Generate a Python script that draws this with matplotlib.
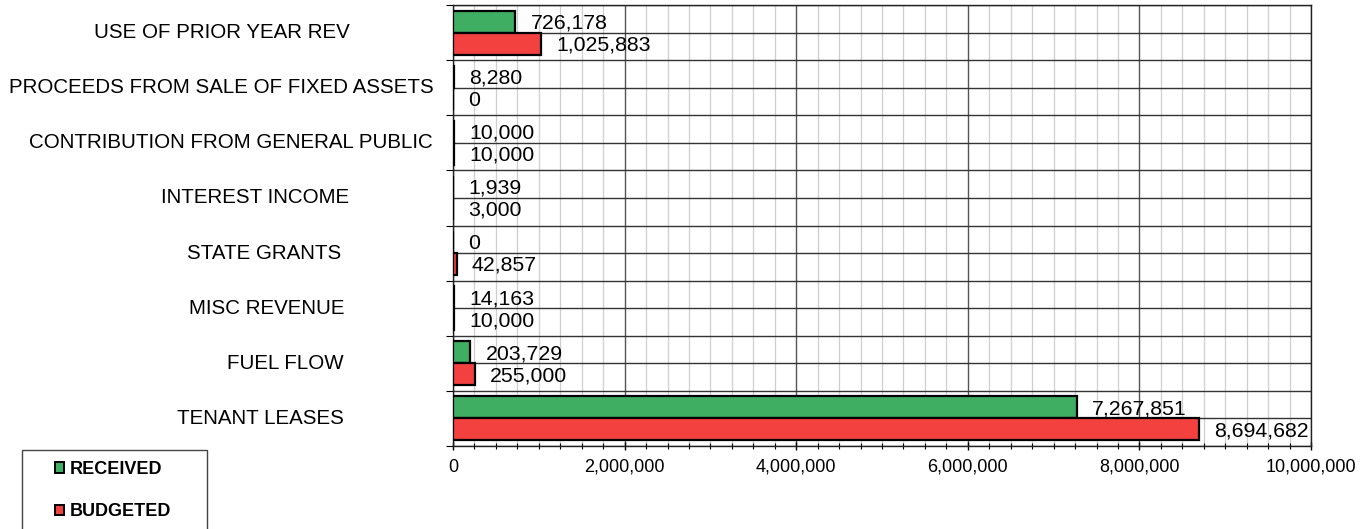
import matplotlib
matplotlib.use("Agg")
import matplotlib.pyplot as plt
import matplotlib.transforms as mtransforms
from matplotlib.patches import Rectangle, Patch
from matplotlib.ticker import MultipleLocator, FuncFormatter
import numpy as np

plt.rcParams['font.family'] = ['Liberation Sans', 'DejaVu Sans']

categories = [
    "USE OF PRIOR YEAR REV",
    "PROCEEDS FROM SALE OF FIXED ASSETS",
    "CONTRIBUTION FROM GENERAL PUBLIC",
    "INTEREST INCOME",
    "STATE GRANTS",
    "MISC REVENUE",
    "FUEL FLOW",
    "TENANT LEASES",
]
received = [726178, 8280, 10000, 1939, 0, 14163, 203729, 7267851]
budgeted = [1025883, 0, 10000, 3000, 42857, 10000, 255000, 8694682]
series_names = ["RECEIVED", "BUDGETED"]

GREEN = "#3fae62"
RED = "#f2413f"

W, H = 1365, 529
fig = plt.figure(figsize=(W / 100, H / 100), dpi=100)
ax = fig.add_axes([453 / W, 1 - 446 / H, (1311 - 453) / W, (446 - 5) / H])

y = np.arange(len(categories))
bh = 0.4
ax.barh(y - bh / 2, received, height=bh, color=GREEN, edgecolor="black", linewidth=1.6, zorder=3)
ax.barh(y + bh / 2, budgeted, height=bh, color=RED, edgecolor="black", linewidth=1.6, zorder=3)

for yi, v in zip(y, received):
    ax.annotate(f"{v:,}", (v, yi - bh / 2), xytext=(11, -1), textcoords="offset points",
                ha="left", va="center", fontsize=15.3, zorder=4)
for yi, v in zip(y, budgeted):
    ax.annotate(f"{v:,}", (v, yi + bh / 2), xytext=(11, -1), textcoords="offset points",
                ha="left", va="center", fontsize=15.3, zorder=4)

ax.set_xlim(0, 10_000_000)
ax.set_ylim(len(categories) - 0.5, -0.5)

# vertical grid: major every 2M, minor every 250k
ax.xaxis.set_major_locator(MultipleLocator(2_000_000))
ax.xaxis.set_minor_locator(MultipleLocator(250_000))
ax.xaxis.set_major_formatter(FuncFormatter(lambda v, p: f"{int(v):,}"))
ax.grid(axis="x", which="major", color="#555555", linewidth=1.0, zorder=0)
ax.grid(axis="x", which="minor", color="#cfcfcf", linewidth=0.9, zorder=0)

# horizontal lines at category boundaries (ticked) and centres (unticked)
ax.set_yticks(np.arange(-0.5, len(categories), 1.0))
ax.set_yticks(np.arange(0, len(categories), 1.0), minor=True)
ax.set_yticklabels([])
ax.grid(axis="y", which="both", color="#333333", linewidth=1.0, zorder=1)
ax.tick_params(axis="y", which="major", length=5, width=0.8, direction="out", left=True)
ax.tick_params(axis="y", which="minor", length=0)
ax.tick_params(axis="x", which="major", length=6, width=1.0, direction="inout", labelsize=13, pad=6)
ax.tick_params(axis="x", which="minor", length=4, width=0.8, direction="inout")
for s in ax.spines.values():
    s.set_color("#222222")
    s.set_linewidth(1.0)

# category labels
label_cx = [222, 221, 231, 255, 264, 267, 285, 260]
trans = mtransforms.blended_transform_factory(fig.transFigure, ax.transData)
for yi, name, cx in zip(y, categories, label_cx):
    ax.text(cx / W, yi, name, transform=trans, ha="center", va="center", fontsize=14.8)

# legend box
fig.patches.append(Rectangle((22 / W, -0.05), (207 - 22) / W, (1 - 450 / H) + 0.05,
                             transform=fig.transFigure, fill=False, edgecolor="#444444",
                             linewidth=1.0))
handles = [Patch(facecolor=GREEN, edgecolor="black", linewidth=1.4),
           Patch(facecolor=RED, edgecolor="black", linewidth=1.4)]
fig.legend(handles, series_names, loc="upper left", bbox_to_anchor=(55 / W, 1 - 461 / H),
           frameon=False, handlelength=0.5, handleheight=0.5, handletextpad=0.3,
           labelspacing=1.4, borderaxespad=0, borderpad=0,
           prop={"weight": "bold", "size": 13})

fig.savefig("out.png", dpi=100)
